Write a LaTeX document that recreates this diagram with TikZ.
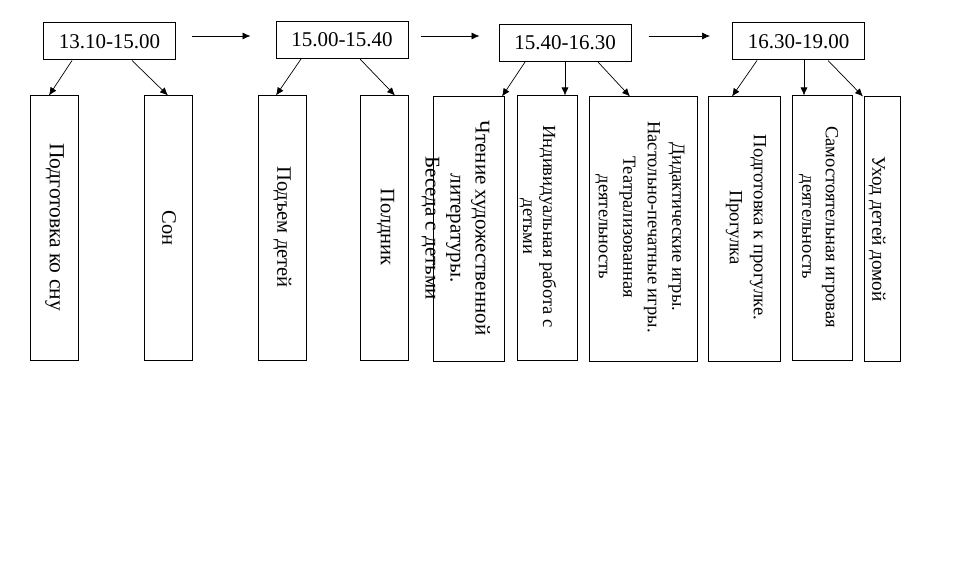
\documentclass[tikz,border=0pt]{standalone}
\usepackage{fontspec}
\setmainfont{Liberation Serif}
\usetikzlibrary{arrows.meta}
\tikzstyle{schedule} = [x = 1pt, y = -1pt]
\tikzstyle{timeBoxStyle} = [draw, line width = 1pt, minimum width = 132pt, minimum height = 37pt, inner sep = 0pt, font = \fontsize{21}{24}\selectfont]
\tikzstyle{activityBoxStyle} = [draw, line width = 1pt, inner sep = 0pt, minimum height = 264pt]
\tikzstyle{activityTextStyle} = [rotate = -90, align = center, inner sep = 0pt]
\tikzstyle{arrowLine} = [-{Latex[length = 8pt, width = 7pt]}, line width = .7pt]
\newcommand{\timeBox}[4]{\node [timeBoxStyle] (#1) at (#2, #3) {#4};}
\newcommand{\activityBox}[4]{\node [activityBoxStyle, minimum width = #4pt] (#1) at (#2, #3) {};}
\newcommand{\activityLabel}[6]{\node [activityTextStyle, font = \fontsize{#5}{#6}\selectfont] (#1) at (#2, #3) {#4};}

\begin{document}
\begin{tikzpicture}[schedule]
  \useasboundingbox (0, 0) rectangle (961, 577);

  % time intervals
  \timeBox{t1}{109.5}{41.5}{13.10-15.00}
  \timeBox{t2}{342}{40}{15.00-15.40}
  \timeBox{t3}{565}{43}{15.40-16.30}
  \timeBox{t4}{798.5}{41.5}{16.30-19.00}

  \draw [arrowLine] ([xshift = 16pt, yshift = 5.5pt]t1.east) -- ([xshift = -25pt, yshift = 4pt]t2.west);
  \draw [arrowLine] ([xshift = 12pt, yshift = 4pt]t2.east) -- ([xshift = -19pt, yshift = 7pt]t3.west);
  \draw [arrowLine] ([xshift = 17pt, yshift = 7pt]t3.east) -- ([xshift = -22pt, yshift = 5.5pt]t4.west);

  % activities
  \activityBox{b1}{54}{228}{48}
  \activityBox{b2}{168}{228}{48}
  \activityBox{b3}{282}{228}{48}
  \activityBox{b4}{384}{228}{48}
  \activityBox{b5}{468.5}{229}{71}
  \activityBox{b6}{547}{228}{60}
  \activityBox{b7}{643}{229}{108}
  \activityBox{b8}{744.5}{229}{72}
  \activityBox{b9}{822.3}{228}{60}
  \activityBox{b10}{882.3}{229}{36}

  \activityLabel{l1}{54.5}{227}{Подготовка ко сну}{21.5}{24}
  \activityLabel{l2}{169}{228}{Сон}{20.5}{24}
  \activityLabel{l3}{282.3}{227}{Подъем детей}{20.5}{24}
  \activityLabel{l4}{385.7}{227}{Полдник}{20.5}{24}
  \activityLabel{l5}{455.7}{228}{Чтение художественной\\литературы.\\Беседа с детьми}{21}{25}
  \activityLabel{l6}{538}{226.5}{Индивидуальная работа с\\детьми}{18.5}{20}
  \activityLabel{l7}{640}{227}{Дидактические игры.\\Настольно-печатные игры.\\Театрализованная\\деятельность}{18.5}{24.5}
  \activityLabel{l8}{746}{227.5}{Подготовка к прогулке.\\Прогулка}{18.7}{24}
  \activityLabel{l9}{818.4}{227}{Самостоятельная игровая\\деятельность}{18.5}{23.5}
  \activityLabel{l10}{877}{229}{Уход детей домой}{19.2}{24}

  % links
  \draw [arrowLine] ([xshift = -37.5pt]t1.south) -- ([xshift = -5pt]b1.north);
  \draw [arrowLine] ([xshift = 22.5pt]t1.south) -- (b2.north);
  \draw [arrowLine] ([xshift = -41pt]t2.south) -- ([xshift = -6pt]b3.north);
  \draw [arrowLine] ([xshift = 18pt]t2.south) -- ([xshift = 11pt]b4.north);
  \draw [arrowLine] ([xshift = -40pt]t3.south) -- ([xshift = 33.5pt]b5.north);
  \draw [arrowLine] (t3.south) -- ([xshift = 18pt]b6.north);
  \draw [arrowLine] ([xshift = 33pt]t3.south) -- ([xshift = -13pt]b7.north);
  \draw [arrowLine] ([xshift = -41.5pt]t4.south) -- ([xshift = -12.5pt]b8.north);
  \draw [arrowLine] ([xshift = 5.5pt]t4.south) -- ([xshift = -18.3pt]b9.north);
  \draw [arrowLine] ([xshift = 29.5pt]t4.south) -- ([xshift = -19.3pt]b10.north);
\end{tikzpicture}
\end{document}
